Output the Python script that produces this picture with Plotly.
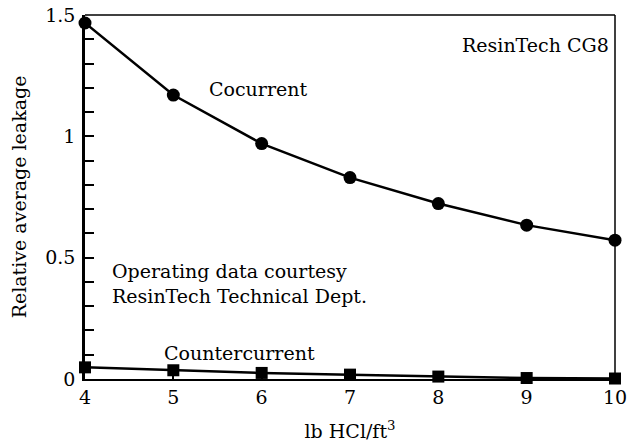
import plotly.graph_objects as go

# lb HCl per cubic foot of resin
hcl_dose = [4, 5, 6, 7, 8, 9, 10]

# relative average leakage for the two regeneration modes
cocurrent = [1.467, 1.17, 0.97, 0.83, 0.723, 0.634, 0.572]
countercurrent = [0.048, 0.036, 0.025, 0.018, 0.01, 0.004, 0.002]

x_ticks = [4, 5, 6, 7, 8, 9, 10]
y_ticks = [0, 0.5, 1, 1.5]
y_tick_labels = ["0", "0.5", "1", "1.5"]

FONT = "DejaVu Serif"
FS = 19

fig = go.Figure()

fig.add_trace(go.Scatter(
    x=hcl_dose, y=cocurrent, mode="lines+markers",
    line=dict(color="black", width=2.5),
    marker=dict(symbol="circle", size=13, color="black"),
    cliponaxis=False, showlegend=False,
))
fig.add_trace(go.Scatter(
    x=hcl_dose, y=countercurrent, mode="lines+markers",
    line=dict(color="black", width=2.5),
    marker=dict(symbol="square", size=12, color="black"),
    cliponaxis=False, showlegend=False,
))

fig.update_xaxes(
    range=[4, 10], tickvals=x_ticks, ticks="inside", ticklen=6, tickwidth=1.5,
    tickcolor="black", showline=True, linewidth=2, linecolor="black",
    showgrid=False, zeroline=False, ticklabeloverflow="allow",
    tickfont=dict(family=FONT, size=FS, color="black"),
    title=dict(text="lb HCl/ft<sup>3</sup>", font=dict(family=FONT, size=FS, color="black"),
               standoff=18),
)
fig.update_yaxes(
    range=[0, 1.5], tickvals=y_ticks, ticktext=y_tick_labels, ticks="inside",
    ticklen=9, tickwidth=2, tickcolor="black",
    minor=dict(dtick=0.1, ticks="inside", ticklen=9, tickwidth=1.5, tickcolor="black"),
    showline=True, linewidth=2.5, linecolor="black",
    showgrid=False, zeroline=False, ticklabeloverflow="allow", ticklabelstandoff=3,
    tickfont=dict(family=FONT, size=FS, color="black"),
    title=dict(text="Relative average leakage", font=dict(family=FONT, size=FS, color="black"),
               standoff=14),
)

# thinner top and right frame edges
fig.add_shape(type="line", xref="paper", yref="paper", x0=0, x1=1, y0=1, y1=1,
              line=dict(color="black", width=1.5))
fig.add_shape(type="line", xref="paper", yref="paper", x0=1, x1=1, y0=0, y1=1,
              line=dict(color="black", width=1.5))

text_font = dict(family=FONT, size=FS, color="black")
fig.add_annotation(x=9.95, y=1.375, text="ResinTech CG8", showarrow=False,
                   xanchor="right", yanchor="middle", font=text_font)
fig.add_annotation(x=5.38, y=1.195, text="Cocurrent", showarrow=False,
                   xanchor="left", yanchor="middle", font=text_font)
fig.add_annotation(x=4.28, y=0.395, text="Operating data courtesy<br>ResinTech Technical Dept.",
                   showarrow=False, xanchor="left", yanchor="middle", align="left",
                   font=text_font)
fig.add_annotation(x=4.87, y=0.108, text="Countercurrent", showarrow=False,
                   xanchor="left", yanchor="middle", font=text_font)

fig.update_layout(
    width=627, height=447,
    margin=dict(l=85, r=12, t=15, b=68, autoexpand=False),
    paper_bgcolor="white", plot_bgcolor="white",
    font=dict(family=FONT, size=FS, color="black"),
)

fig.write_html("out.html")
